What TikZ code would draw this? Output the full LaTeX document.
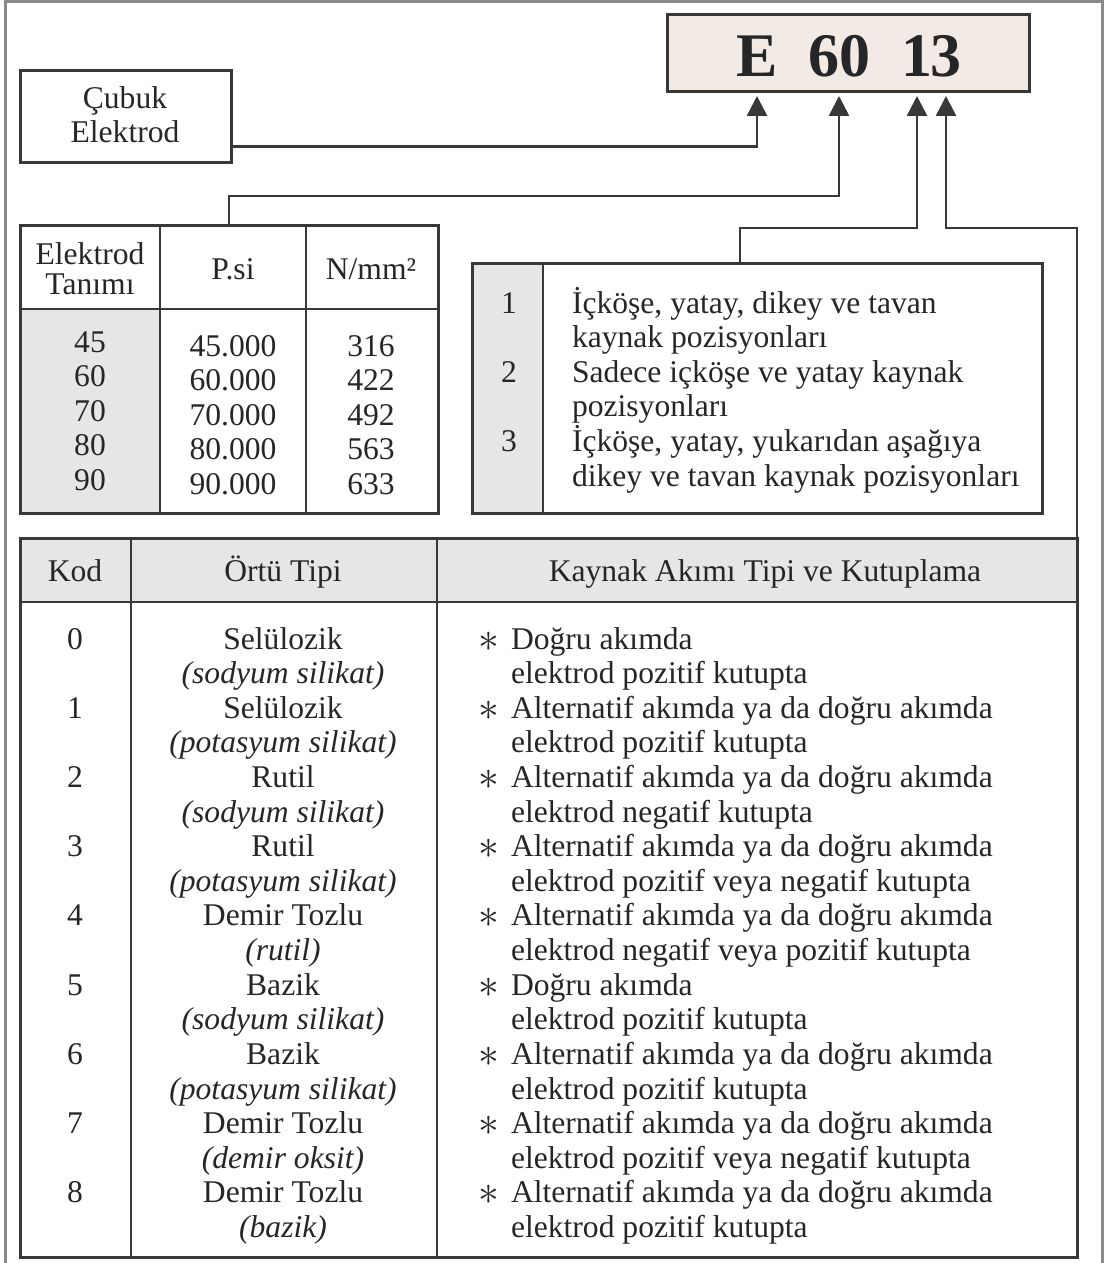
\documentclass[tikz,border=0pt]{standalone}
\usepackage{fontspec}
\setmainfont{Liberation Serif}
\usetikzlibrary{arrows.meta,fit}
\definecolor{ink}{HTML}{262626}
\definecolor{linec}{HTML}{383838}
\definecolor{cellgrey}{HTML}{E6E6E6}
\definecolor{codebg}{HTML}{F2EAE5}
\definecolor{rim}{HTML}{8A8A8A}
\begin{document}
\begin{tikzpicture}
[x=0.5pt,y=-0.5pt,
 every node/.style={inner sep=0pt,outer sep=0pt,text=ink,font=\fontsize{15.8}{17.3}\selectfont},
 frame/.style={draw=linec,line width=1.5pt},
 rule/.style={draw=linec,line width=1.1pt},
 cell/.style={anchor=base},
 note/.style={anchor=base,font=\fontsize{15.8}{17.3}\selectfont\itshape},
 line/.style={anchor=base west},
 bullet/.style={anchor=base,font=\fontsize{21}{21}\selectfont},
 pointer/.style={draw=linec,line width=1.3pt,shorten >=2pt,-{Triangle[width=10pt,length=10pt]}},
 digit/.style={anchor=base,font=\fontsize{31}{31}\selectfont\bfseries}]
\useasboundingbox (0,0) rectangle (1105,1263);
\draw[rim,line width=1.5pt] (5,1263) -- (5,1.5) -- (1102.5,1.5) -- (1102.5,1263);

\node[frame,fill=codebg,fit={(667,15) (1029,92)}] (codebox) {};
\node[digit] (dE)  at (757,76) {E};
\node[digit] (d60) at (839,76) {60};
\node[digit] (d1)  at (917,76) {1};
\node[digit] (d3)  at (946,76) {3};

\node[frame,fit={(20,71) (231,162)}] (cubuk) {};
\node[cell] (cubuk1) at (125,109) {Çubuk};
\node[cell] (cubuk2) at (125,142) {Elektrod};

\fill[cellgrey] (20,309) rectangle (160,513);
\draw[rule] (20,309) -- (438,309);
\draw[rule] (160,225) -- (160,513);
\draw[rule] (306,225) -- (306,513);
\node[frame,fit={(20,225) (438,513)}] (strength) {};
\node[cell] (hName1) at (90,264) {Elektrod};
\node[cell] (hName2) at (90,294) {Tanımı};
\node[cell] (hPsi)   at (233,279) {P.si};
\node[cell] (hNmm)   at (371,279) {N/mm²};
\foreach \v/\p/\n [count=\i from 0] in {45/45.000/316,60/60.000/422,70/70.000/492,80/80.000/563,90/90.000/633}
{
  \node[cell] (grade\i) at (90,{352+34.6*\i}) {\v};
  \node[cell] (psi\i)   at (233,{356+34.6*\i}) {\p};
  \node[cell] (nmm\i)   at (371,{356+34.6*\i}) {\n};
}

\fill[cellgrey] (472,263) rectangle (543,513);
\draw[rule] (543,263) -- (543,513);
\node[frame,fit={(472,263) (1042,513)}] (pos) {};
\foreach \n/\a/\b [count=\i from 0] in {1/{İçköşe, yatay, dikey ve tavan}/kaynak pozisyonları,2/Sadece içköşe ve yatay kaynak/pozisyonları,3/{İçköşe, yatay, yukarıdan aşağıya}/dikey ve tavan kaynak pozisyonları}
{
  \node[cell] (posn\i) at (509,{313+69.2*\i}) {\n};
  \node[line] (posa\i) at (572,{313+69.2*\i}) {\a};
  \node[line] (posb\i) at (572,{347.6+69.2*\i}) {\b};
}

\fill[cellgrey] (20,538) rectangle (1077,602);
\draw[rule] (20,602) -- (1077,602);
\draw[rule] (131,538) -- (131,1257);
\draw[rule] (437,538) -- (437,1257);
\node[frame,fit={(20,538) (1077,1257)}] (coating) {};
\node[cell] (hKod)  at (75,581) {Kod};
\node[cell] (hOrtu) at (283,581) {Örtü Tipi};
\node[cell] (hAkim) at (765,581) {Kaynak Akımı Tipi ve Kutuplama};
\foreach \c/\kind/\sub/\cur/\pol [evaluate=\c as \yb using 649+69.24*\c] in
 {0/Selülozik/sodyum silikat/Doğru akımda/pozitif,
  1/Selülozik/potasyum silikat/Alternatif akımda ya da doğru akımda/pozitif,
  2/Rutil/sodyum silikat/Alternatif akımda ya da doğru akımda/negatif,
  3/Rutil/potasyum silikat/Alternatif akımda ya da doğru akımda/pozitif veya negatif,
  4/Demir Tozlu/rutil/Alternatif akımda ya da doğru akımda/negatif veya pozitif,
  5/Bazik/sodyum silikat/Doğru akımda/pozitif,
  6/Bazik/potasyum silikat/Alternatif akımda ya da doğru akımda/pozitif,
  7/Demir Tozlu/demir oksit/Alternatif akımda ya da doğru akımda/pozitif veya negatif,
  8/Demir Tozlu/bazik/Alternatif akımda ya da doğru akımda/pozitif}
{
  \node[cell]   (kod\c)  at (75,\yb) {\c};
  \node[cell]   (kind\c) at (283,\yb) {\kind};
  \node[note]   (sub\c)  at (283,{\yb+34.62}) {(\sub)};
  \node[bullet] (star\c) at (489,{\yb+2}) {$\ast$};
  \node[line]   (cur\c)  at (511,\yb) {\cur};
  \node[line]   (pol\c)  at (511,{\yb+34.62}) {elektrod \pol{} kutupta};
}

\draw[pointer] ([yshift=-15pt]cubuk.east) -| (codebox.south -| dE);
\draw[pointer] (strength.north) -- ++(0,-29) -| (codebox.south -| d60);
\draw[pointer] ([xshift=-8.5pt]pos.north) -- ++(0,-35) -| (codebox.south -| d1);
\draw[pointer] (coating.north east) -- ++(0,-310) -| (codebox.south -| d3);
\end{tikzpicture}
\end{document}
